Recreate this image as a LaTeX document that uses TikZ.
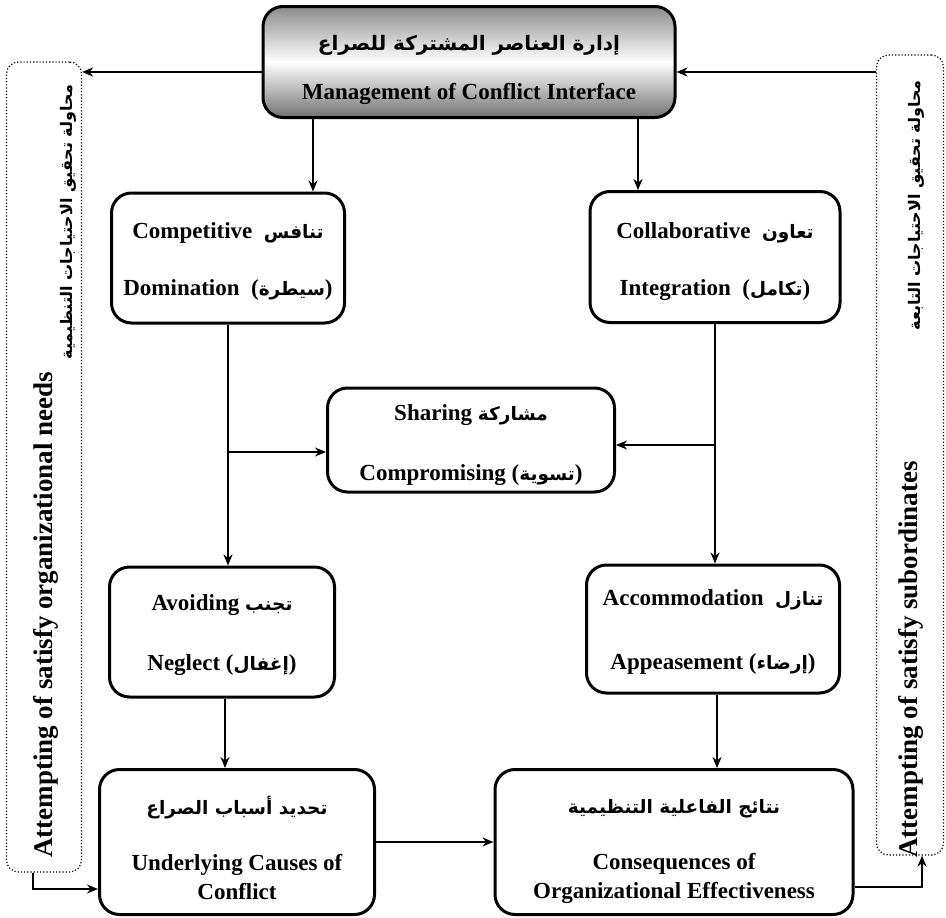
\documentclass[tikz,border=0pt]{standalone}
\usepackage{fontspec}
\setmainfont{Liberation Serif}
\newfontfamily\arabicfont[Script=Arabic]{DejaVu Sans}
\TeXXeTstate=1
\usetikzlibrary{arrows.meta}
\newcommand{\artxt}[1]{{\arabicfont\fontsize{18.5}{25}\selectfont\beginR #1\endR}}
\newcommand{\sidear}[1]{{\arabicfont\fontsize{16}{25}\selectfont\beginR #1\endR}}

\begin{document}
\begin{tikzpicture}[x=1pt,y=-1pt,
  box/.style={draw, line width=3pt, rounded corners=20pt, inner sep=0pt},
  txt/.style={align=center, inner sep=0pt, font=\fontsize{23}{25}\selectfont\bfseries},
  sidebox/.style={draw, dotted, line width=1.2pt, rounded corners=12pt, inner sep=0pt},
  sidetxt/.style={rotate=90, inner sep=0pt, font=\fontsize{27}{30}\selectfont\bfseries},
  arr/.style={-{Stealth[length=11pt,width=9pt]}, line width=2.5pt}]
  \useasboundingbox (0,0) rectangle (946,918);

  % central box
  \node[box, top color=black!45, bottom color=black!55, middle color=white,
    minimum width=412pt, minimum height=111pt] (mgmt) at (469,62) {};
  \node[txt] (mgmttxt) at ([yshift=-8pt]mgmt.center)
    {{\arabicfont\fontsize{20}{25}\selectfont\beginR إدارة العناصر المشتركة للصراع\endR}\\[24pt] Management of Conflict Interface};

  % styles of handling
  \node[box, minimum width=233pt, minimum height=130pt] (compet) at (228,258) {};
  \node[txt] (compettxt) at ([yshift=-3pt]compet.center)
    {Competitive~~\artxt{تنافس}\\[32pt] Domination~~(\artxt{سيطرة})};
  \node[box, minimum width=250pt, minimum height=131pt] (collab) at (715,257) {};
  \node[txt] (collabtxt) at ([yshift=-5pt]collab.center)
    {Collaborative~~\artxt{تعاون}\\[32pt] Integration~~(\artxt{تكامل})};
  \node[box, minimum width=287pt, minimum height=104pt] (sharing) at (471,440) {};
  \node[txt] (sharingtxt) at ([yshift=-5pt]sharing.center)
    {Sharing \artxt{مشاركة}\\[35pt] Compromising (\artxt{تسوية})};
  \node[box, minimum width=225pt, minimum height=130pt] (avoid) at (222,632) {};
  \node[txt] (avoidtxt) at ([yshift=-3pt]avoid.center)
    {Avoiding \artxt{تجنب}\\[35pt] Neglect (\artxt{إغفال})};
  \node[box, minimum width=253pt, minimum height=128pt] (accom) at (713,629) {};
  \node[txt] (accomtxt) at ([yshift=-3pt]accom.center)
    {Accommodation~~\artxt{تنازل}\\[39pt] Appeasement (\artxt{إرضاء})};

  % outcomes
  \node[box, minimum width=275pt, minimum height=145pt] (causes) at (237,842) {};
  \node[txt] (causestxt) at ([yshift=-6pt]causes.center)
    {\artxt{تحديد أسباب الصراع}\\[31pt] Underlying Causes of\\[4pt] Conflict};
  \node[box, minimum width=358pt, minimum height=145pt] (conseq) at (674,842) {};
  \node[txt] (conseqtxt) at ([yshift=-10pt]conseq.center)
    {\artxt{نتائج الفاعلية التنظيمية}\\[31pt] Consequences of\\[4pt] Organizational Effectiveness};

  % side boxes
  \node[sidebox, minimum width=75pt, minimum height=810pt] (leftbox) at (44,467) {};
  \node[sidetxt, anchor=west] (leften) at (46,858) {Attempting of satisfy organizational needs};
  \node[sidetxt, anchor=east] (leftar) at (68,84) {\sidear{محاولة تحقيق الاحتياجات التنظيمية}};
  \node[sidebox, minimum width=67pt, minimum height=800pt] (rightbox) at (910,455) {};
  \node[sidetxt, anchor=west] (righten) at (911,858) {Attempting of satisfy subordinates};
  \node[sidetxt, anchor=east] (rightar) at (916,80) {\sidear{محاولة تحقيق الاحتياجات التابعة}};

  % connectors
  \draw[arr] ([yshift=-10pt]mgmt.west) -- ([yshift=-10pt]mgmt.west -| leftbox.east);
  \draw[arr] ([yshift=-10pt]mgmt.east -| rightbox.west) -- ([yshift=-10pt]mgmt.east);
  \draw[arr] ([xshift=-156pt]mgmt.south) -- ([xshift=-156pt]mgmt.south |- compet.north);
  \draw[arr] ([xshift=169pt]mgmt.south) -- ([xshift=169pt]mgmt.south |- collab.north);

  \coordinate (lj) at ([yshift=-12pt]sharing.west);
  \coordinate (rj) at ([yshift=-5pt]sharing.east);
  \draw[arr] (compet.south) -- (compet.south |- avoid.north);
  \draw[arr] (lj -| compet.south) -- (lj);
  \draw[arr] (collab.south) -- (collab.south |- accom.north);
  \draw[arr] (rj -| collab.south) -- (rj);

  \draw[arr] ([xshift=3pt]avoid.south) -- ([xshift=3pt]avoid.south |- causes.north);
  \draw[arr] ([xshift=4pt]accom.south) -- ([xshift=4pt]accom.south |- conseq.north);
  \draw[arr] (causes.east) -- (causes.east -| conseq.west);

  \draw[arr] ([xshift=-11pt]leftbox.south) |- ([yshift=-47pt]causes.west);
  \draw[arr] ([yshift=-45pt]conseq.east) -| ([xshift=12pt]rightbox.south);
\end{tikzpicture}
\end{document}
